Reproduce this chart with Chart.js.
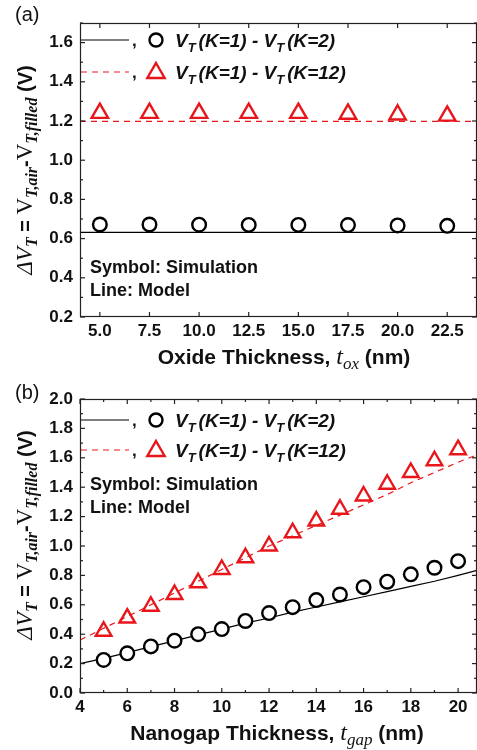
<!DOCTYPE html>
<html>
<head>
<meta charset="utf-8">
<script src="https://cdn.jsdelivr.net/npm/chart.js@4.4.1/dist/chart.umd.min.js"></script>
<style>
  body { margin: 0; background: #fff; }
  #wrap { position: relative; width: 477px; height: 750px; }
  canvas { position: absolute; left: 0; }
</style>
</head>
<body>
<div id="wrap">
  <canvas id="chartA" width="477" height="375" style="top:0"></canvas>
  <canvas id="chartB" width="477" height="375" style="top:375px"></canvas>
</div>
<script>
// (a) oxide thickness sweep
const oxideNm = [5, 7.5, 10, 12.5, 15, 17.5, 20, 22.5];
const simK2A = [0.672, 0.672, 0.671, 0.670, 0.670, 0.669, 0.667, 0.665];
const simK12A = [1.240, 1.240, 1.240, 1.240, 1.240, 1.236, 1.232, 1.226];
const modelXA = [4, 24];
const modelK2A = [0.632, 0.632];
const modelK12A = [1.198, 1.198];
const xTicksA = [5, 7.5, 10, 12.5, 15, 17.5, 20, 22.5];
const yTicksA = [0.2, 0.4, 0.6, 0.8, 1.0, 1.2, 1.4, 1.6];

// (b) nanogap thickness sweep
const gapNm = [5, 6, 7, 8, 9, 10, 11, 12, 13, 14, 15, 16, 17, 18, 19, 20];
const simK2B = [0.225, 0.27, 0.317, 0.356, 0.40, 0.435, 0.49, 0.544, 0.584, 0.632, 0.67, 0.72, 0.757, 0.807, 0.852, 0.897];
const simK12B = [0.42, 0.51, 0.59, 0.67, 0.75, 0.84, 0.92, 1.00, 1.09, 1.17, 1.25, 1.34, 1.42, 1.50, 1.58, 1.655];
const modelXB = [4, 5, 6, 7, 8, 9, 10, 11, 12, 13, 14, 15, 16, 17, 18, 19, 20, 20.8];
const modelK2B = [0.20, 0.235, 0.275, 0.315, 0.355, 0.395, 0.435, 0.475, 0.51, 0.55, 0.585, 0.62, 0.655, 0.69, 0.725, 0.76, 0.80, 0.835];
const modelK12B = [0.36, 0.44, 0.52, 0.60, 0.68, 0.76, 0.84, 0.92, 1.00, 1.07, 1.14, 1.21, 1.28, 1.35, 1.43, 1.50, 1.57, 1.62];
const xTicksB = [4, 6, 8, 10, 12, 14, 16, 18, 20];
const yTicksB = [0.0, 0.2, 0.4, 0.6, 0.8, 1.0, 1.2, 1.4, 1.6, 1.8, 2.0];

const RED = '#e8161b';
const SANS = '"Liberation Sans", Arial, sans-serif';
const SERIF = '"Liberation Serif", "Times New Roman", serif';

function pts(xs, ys) { return xs.map((x, i) => ({ x: x, y: ys[i] })); }

function drawRich(ctx, segs, x, y, align) {
    let w = 0;
    segs.forEach(s => { ctx.font = s.f; w += ctx.measureText(s.t).width + (s.gap || 0); });
    let cx = align === 'center' ? x - w / 2 : x;
    ctx.textBaseline = 'alphabetic';
    ctx.textAlign = 'left';
    segs.forEach(s => {
        ctx.font = s.f;
        ctx.fillStyle = s.c || '#111';
        ctx.fillText(s.t, cx, y + (s.dy || 0));
        cx += ctx.measureText(s.t).width + (s.gap || 0);
    });
}

function legendText(k) {
    const bi = 'italic bold 19px ' + SANS, sub = 'italic bold 13px ' + SANS;
    return [
        { t: 'V', f: bi }, { t: 'T', f: sub, dy: 5, gap: 3 }, { t: '(K=1) - ', f: bi },
        { t: 'V', f: bi }, { t: 'T', f: sub, dy: 5, gap: 3 }, { t: '(K=' + k + ')', f: bi }
    ];
}

function yTitle() {
    const it = 'italic 23px ' + SERIF, rm = '23px ' + SERIF, sub = 'italic bold 16px ' + SERIF;
    return [
        { t: 'ΔV', f: it }, { t: 'T', f: sub, dy: 5 }, { t: ' = ', f: 'bold 20px ' + SANS },
        { t: 'V', f: rm }, { t: 'T,air', f: sub, dy: 5 }, { t: '-', f: 'bold 20px ' + SANS },
        { t: 'V', f: rm }, { t: 'T,filled', f: sub, dy: 5 }, { t: ' (V)', f: 'bold 20px ' + SANS }
    ];
}

function marker(ctx, type, x, y) {
    ctx.save();
    ctx.lineWidth = 2.4;
    if (type === 'circle') {
        ctx.strokeStyle = '#000';
        ctx.beginPath(); ctx.arc(x, y, 6.5, 0, Math.PI * 2); ctx.stroke();
    } else {
        ctx.strokeStyle = RED;
        const r = 10;
        ctx.beginPath();
        ctx.moveTo(x, y - r);
        ctx.lineTo(x + r * 0.866, y + r * 0.5);
        ctx.lineTo(x - r * 0.866, y + r * 0.5);
        ctx.closePath(); ctx.stroke();
    }
    ctx.restore();
}

// frame, inward ticks, legend and rich axis titles
const decor = {
    id: 'decor',
    afterDraw(chart, args, o) {
        const ctx = chart.ctx, a = chart.chartArea, xs = chart.scales.x, ys = chart.scales.y;
        ctx.save();
        ctx.strokeStyle = '#222';
        ctx.lineWidth = 1.2;
        ctx.strokeRect(a.left + 0.5, a.top + 0.5, a.right - a.left - 1, a.bottom - a.top - 1);
        const tick = (x1, y1, x2, y2) => { ctx.beginPath(); ctx.moveTo(x1, y1); ctx.lineTo(x2, y2); ctx.stroke(); };
        o.xMajor.forEach(v => {
            const p = xs.getPixelForValue(v);
            tick(p, a.bottom, p, a.bottom - 5); tick(p, a.top, p, a.top + 5);
        });
        o.xMinor.forEach(v => {
            const p = xs.getPixelForValue(v);
            tick(p, a.bottom, p, a.bottom - 3); tick(p, a.top, p, a.top + 3);
        });
        for (let v = ys.min; v <= ys.max + 1e-9; v += 0.1) {
            const p = ys.getPixelForValue(v);
            const major = Math.abs(Math.round(v * 10) % 2) === 0;
            const len = major ? 5 : 3;
            tick(a.left, p, a.left + len, p); tick(a.right, p, a.right - len, p);
        }
        // panel label
        ctx.font = '20px ' + SANS; ctx.fillStyle = '#111';
        ctx.textAlign = 'left'; ctx.textBaseline = 'alphabetic';
        ctx.fillText(o.panel, 15, o.panelY);
        // legend
        ctx.strokeStyle = '#000'; ctx.lineWidth = 1.2;
        tick(81, o.row1, 129, o.row1);
        ctx.strokeStyle = RED; ctx.setLineDash([6, 5]);
        tick(81, o.row2, 129, o.row2);
        ctx.setLineDash([]);
        ctx.font = 'bold 17px ' + SANS; ctx.fillStyle = '#111';
        ctx.fillText(',', 132, o.row1 + 6); ctx.fillText(',', 132, o.row2 + 6);
        marker(ctx, 'circle', 156, o.row1);
        marker(ctx, 'tri', 156, o.row2 + 1);
        drawRich(ctx, legendText(2), 175, o.row1 + 7, 'left');
        drawRich(ctx, legendText(12), 175, o.row2 + 7, 'left');
        // notes
        drawRich(ctx, [{ t: 'Symbol: Simulation', f: 'bold 18px ' + SANS }], 90, o.note1, 'left');
        drawRich(ctx, [{ t: 'Line: Model', f: 'bold 18px ' + SANS }], 90, o.note2, 'left');
        // x title
        drawRich(ctx, [
            { t: o.xName + ', ', f: 'bold 21px ' + SANS },
            { t: 't', f: 'italic 24px ' + SERIF },
            { t: o.xSub, f: 'italic 17px ' + SERIF, dy: 5 },
            { t: ' (nm)', f: 'bold 21px ' + SANS }
        ], o.xTitleX, o.xTitleY, 'center');
        // y title
        ctx.translate(32, o.yTitleY);
        ctx.rotate(-Math.PI / 2);
        drawRich(ctx, yTitle(), 0, 0, 'center');
        ctx.restore();
    }
};

function makeChart(id, cfg) {
    const tickFont = { family: SANS, size: 17, weight: 'bold' };
    return new Chart(document.getElementById(id), {
        type: 'scatter',
        data: {
            datasets: [
                { data: pts(cfg.simX, cfg.simK2), pointStyle: 'circle', pointRadius: 6.8, pointBorderWidth: 2.4,
                  borderColor: '#000', pointBackgroundColor: '#fff', order: 0 },
                { data: pts(cfg.simX, cfg.simK12), pointStyle: 'triangle', pointRadius: cfg.triR, pointBorderWidth: 2.4,
                  borderColor: RED, pointBackgroundColor: 'rgba(255,255,255,0)', order: 0 },
                { data: pts(cfg.modelX, cfg.modelK2), showLine: true, pointRadius: 0, borderColor: '#000',
                  borderWidth: 1.2, order: 1 },
                { data: pts(cfg.modelX, cfg.modelK12), showLine: true, pointRadius: 0, borderColor: RED,
                  borderWidth: 1.2, borderDash: [6, 5], order: 1 }
            ]
        },
        options: {
            responsive: false,
            animation: false,
            devicePixelRatio: 1,
            layout: { autoPadding: false, padding: { top: cfg.padTop, left: 0, right: 0, bottom: 0 } },
            plugins: { legend: { display: false }, tooltip: { enabled: false }, decor: cfg.decor },
            scales: {
                x: {
                    type: 'linear', min: cfg.xMin, max: cfg.xMax,
                    grid: { display: false, drawTicks: false }, border: { display: false },
                    afterBuildTicks: s => { s.ticks = cfg.xTicks.map(v => ({ value: v })); },
                    afterFit: s => { s.height = cfg.xAxisH; },
                    ticks: { font: tickFont, color: '#111', padding: 4, maxRotation: 0, autoSkip: false,
                             callback: cfg.xFmt }
                },
                y: {
                    type: 'linear', min: cfg.yMin, max: cfg.yMax,
                    grid: { display: false, drawTicks: false }, border: { display: false },
                    afterBuildTicks: s => { s.ticks = cfg.yTicks.map(v => ({ value: v })); },
                    afterFit: s => { s.width = 80; },
                    ticks: { font: tickFont, color: '#111', padding: 7, autoSkip: false,
                             callback: v => v.toFixed(1) }
                }
            }
        },
        plugins: [decor]
    });
}

// Graphique (a)
makeChart('chartA', {
    simX: oxideNm, simK2: simK2A, simK12: simK12A,
    modelX: modelXA, modelK2: modelK2A, modelK12: modelK12A,
    xMin: 4, xMax: 24, yMin: 0.2, yMax: 1.7, xTicks: xTicksA, yTicks: yTicksA,
    xFmt: v => v.toFixed(1), padTop: 23, xAxisH: 58, triR: 9.5,
    decor: {
        panel: '(a)', panelY: 21, row1: 40, row2: 72, note1: 273, note2: 296,
        xName: 'Oxide Thickness', xSub: 'ox', xTitleX: 284, xTitleY: 364, yTitleY: 170,
        xMajor: xTicksA, xMinor: []
    }
});

// Graphique (b)
makeChart('chartB', {
    simX: gapNm, simK2: simK2B, simK12: simK12B,
    modelX: modelXB, modelK2: modelK2B, modelK12: modelK12B,
    xMin: 4, xMax: 20.8, yMin: 0, yMax: 2.0, xTicks: xTicksB, yTicks: yTicksB,
    xFmt: v => String(v), padTop: 24, xAxisH: 57, triR: 9,
    decor: {
        panel: '(b)', panelY: 24, row1: 45, row2: 75, note1: 115, note2: 138,
        xName: 'Nanogap Thickness', xSub: 'gap', xTitleX: 277, xTitleY: 365, yTitleY: 160,
        xMajor: xTicksB, xMinor: [5, 7, 9, 11, 13, 15, 17, 19]
    }
});
</script>
</body>
</html>
